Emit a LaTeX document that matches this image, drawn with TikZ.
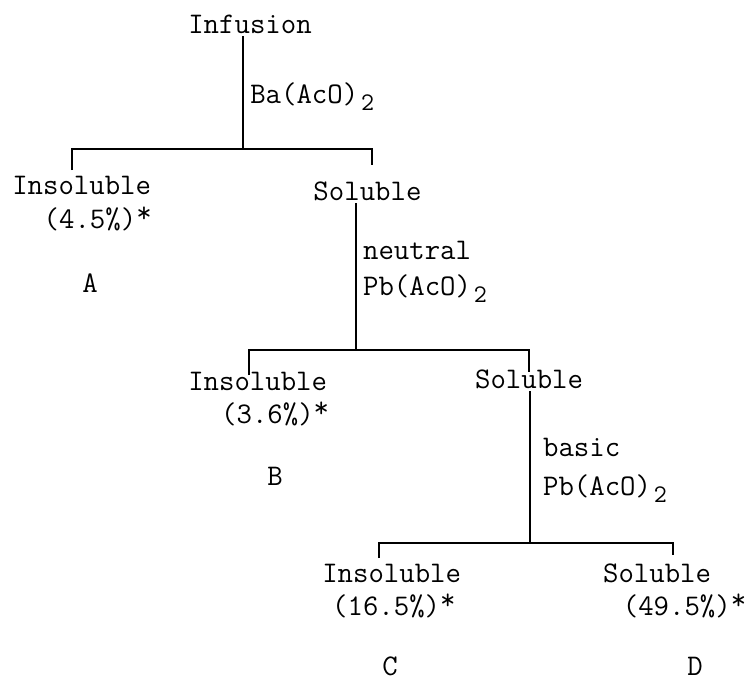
\documentclass[tikz,border=0pt]{standalone}
\usepackage{tikz}
\usetikzlibrary{positioning,calc}
\newcommand{\subtwo}{\kern2pt\raisebox{-5pt}[0pt][0pt]{\fontsize{18}{18}\selectfont 2}}
\newcommand{\starmark}{\raisebox{4pt}[0pt][0pt]{*}}
\begin{document}
\begin{tikzpicture}[
  font=\ttfamily\fontsize{21.3}{23.5}\selectfont,
  res/.style={align=left, inner sep=2pt, anchor=base west},
  rgt/.style={align=left, inner sep=2pt, anchor=base west},
  frc/.style={inner sep=2pt, anchor=base},
  ln/.style={line width=1.1pt}
]
\useasboundingbox (0,0) rectangle (18.7,-17.03);
% ---------------- top: infusion, barium acetate
\node[frc] (inf) at (6.25,-0.83) {Infusion};
\node[rgt] (ba) at (6.18,-2.58) {Ba(AcO)\subtwo};
\node[res] (ins1) at (0.23,-5.7) {Insoluble\\\hspace*{1.05em}(4.5\%)\starmark};
\node[res] (sol1) at (7.76,-5.0) {Soluble};
\node[frc] (fa) at (2.25,-7.3) {A};
% ---------------- neutral lead acetate
\node[rgt] (neu) at (9.0,-7.38) {neutral\\[2pt]Pb(AcO)\subtwo};
\node[res] (ins2) at (4.63,-10.58) {Insoluble\\\hspace*{1.1em}(3.6\%)\starmark};
\node[res] (sol2) at (11.8,-9.7) {Soluble};
\node[frc] (fb) at (6.88,-12.13) {B};
% ---------------- basic lead acetate
\node[rgt] (bas) at (13.5,-12.38) {basic\\[4pt]Pb(AcO)\subtwo};
\node[res] (ins3) at (7.98,-15.38) {Insoluble\\\hspace*{0.33em}(16.5\%)\starmark};
\node[res] (sol3) at (15.0,-15.38) {Soluble\\\hspace*{0.66em}(49.5\%)\starmark};
\node[frc] (fc) at (9.75,-16.88) {C};
\node[frc] (fd) at (17.38,-16.88) {D};
% ---------------- junctions and tick ends
\coordinate (j1) at (6.08,-3.73);
\coordinate (t1a) at (1.8,-4.25);
\coordinate (t1b) at (9.3,-4.13);
\coordinate (j2) at (8.9,-8.75);
\coordinate (t2a) at (6.23,-9.38);
\coordinate (t2b) at (13.23,-9.3);
\coordinate (j3) at (13.25,-13.58);
\coordinate (t3a) at (9.48,-13.95);
\coordinate (t3b) at (16.83,-13.88);
% ---------------- edges
\draw[ln] (inf.south -| j1) -- (j1);
\draw[ln] (t1a) |- (j1) -| (t1b);
\draw[ln] (sol1.south -| j2) -- (j2);
\draw[ln] (t2a) |- (j2) -| (t2b);
\draw[ln] (sol2.south -| j3) -- (j3);
\draw[ln] (t3a) |- (j3) -| (t3b);
\end{tikzpicture}
\end{document}
